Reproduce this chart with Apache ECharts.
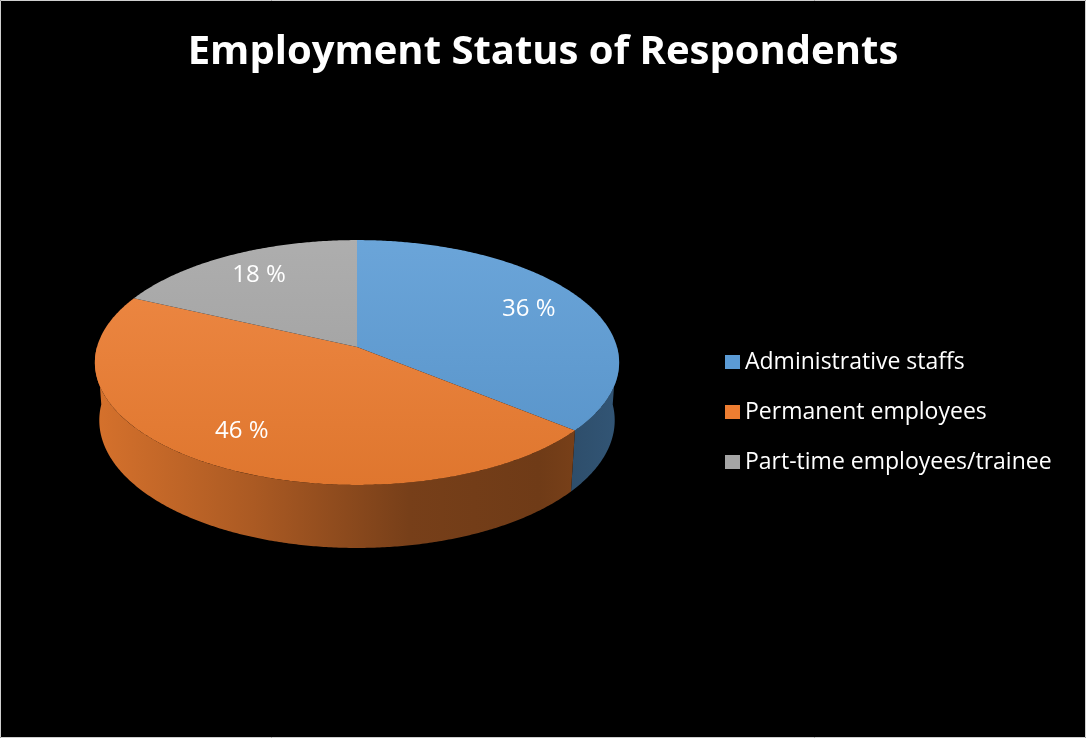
<!DOCTYPE html>
<html>
<head>
<meta charset="utf-8">
<script src="https://cdn.jsdelivr.net/npm/echarts@6/dist/echarts.min.js"></script>
<style>
  html, body { margin: 0; padding: 0; background: #000; }
  #chart { width: 1086px; height: 738px; }
</style>
</head>
<body>
<div id="chart"></div>
<script>
// Survey breakdown (percent of respondents)
const categories = ['Administrative staffs', 'Permanent employees', 'Part-time employees/trainee'];
const shares = [36, 46, 18];
const palette = ['#5B9BD5', '#ED7D31', '#A5A5A5'];

// Tilted-disc view: centre, radius in px, tilt, camera distance (in radii), thickness (in radii)
const CX = 357, CY = 347, SCALE = 260;
const TILT = 27.6 * Math.PI / 180;
const CAM = 7.0;
const THICK = 0.2536;
const LABEL_R = 0.76;
const FONT = '"Open Sans", "Noto Sans", sans-serif';

const total = shares.reduce((a, b) => a + b, 0);

// theta is measured clockwise from the far (back) side of the disc
function project(theta, r, level) {
  const x3 = r * Math.sin(theta);
  const z3 = r * Math.cos(theta);
  const y3 = -level * THICK;
  const up = y3 * Math.cos(TILT) + z3 * Math.sin(TILT);
  const toward = -z3 * Math.cos(TILT) + y3 * Math.sin(TILT);
  const f = CAM / (CAM - toward);
  return [CX + SCALE * x3 * f, CY - SCALE * up * f];
}

function arc(a, b, r, level) {
  const n = Math.max(2, Math.ceil((b - a) / (0.5 * Math.PI / 180)));
  const pts = [];
  for (let k = 0; k <= n; k++) pts.push(project(a + (b - a) * k / n, r, level));
  return pts;
}

function shade(hex, f) {
  const n = parseInt(hex.slice(1), 16);
  const c = [(n >> 16) & 255, (n >> 8) & 255, n & 255].map(v => {
    const o = f >= 1 ? v + (255 - v) * (f - 1) : v * f;
    return Math.round(Math.max(0, Math.min(255, o)));
  });
  return 'rgb(' + c.join(',') + ')';
}

function renderSlice(params, api) {
  const i = params.seriesIndex;
  const value = api.value(0);
  let before = 0;
  for (let k = 0; k < i; k++) before += shares[k];
  const t0 = before / total * Math.PI * 2;
  const t1 = t0 + value / total * Math.PI * 2;
  const base = palette[i];
  const children = [];

  // outer wall, only the half facing the viewer
  const a = Math.max(t0, Math.PI / 2), b = Math.min(t1, Math.PI * 1.5);
  if (a < b) {
    const pts = arc(a, b, 1, 0).concat(arc(a, b, 1, 1).reverse());
    children.push({
      type: 'polygon',
      z2: 1,
      shape: { points: pts },
      style: {
        fill: {
          type: 'linear', global: true, x: CX - SCALE, y: 0, x2: CX + SCALE, y2: 0,
          colorStops: [
            { offset: 0, color: shade(base, 0.9) },
            { offset: 0.3, color: shade(base, 0.72) },
            { offset: 0.6, color: shade(base, 0.5) },
            { offset: 0.85, color: shade(base, 0.47) },
            { offset: 1, color: shade(base, 0.55) }
          ]
        }
      }
    });
  }

  // top face
  const top = [project(0, 0, 0)].concat(arc(t0, t1, 1, 0));
  children.push({
    type: 'polygon',
    z2: 10,
    shape: { points: top },
    style: {
      fill: {
        type: 'linear', global: true, x: 0, y: CY - 110, x2: 0, y2: CY + 140,
        colorStops: [
          { offset: 0, color: shade(base, 1.1) },
          { offset: 1, color: shade(base, 0.94) }
        ]
      }
    }
  });

  // value label
  const mid = (t0 + t1) / 2;
  const p = project(mid, LABEL_R, 0);
  children.push({
    type: 'text',
    z2: 20,
    x: p[0], y: p[1],
    style: {
      text: value + ' %',
      fill: '#ffffff',
      font: '24px ' + FONT,
      align: 'center',
      verticalAlign: 'middle'
    }
  });

  return { type: 'group', children: children };
}

const chart = echarts.init(document.getElementById('chart'));
chart.setOption({
  backgroundColor: '#000000',
  animation: false,
  title: {
    text: 'Employment Status of Respondents',
    left: 'center',
    top: 28,
    textStyle: { color: '#ffffff', fontSize: 40, fontWeight: 'bold', fontFamily: FONT }
  },
  legend: {
    orient: 'vertical',
    left: 725,
    top: 350,
    padding: 0,
    itemWidth: 15,
    itemHeight: 14,
    itemGap: 26,
    icon: 'rect',
    data: categories,
    textStyle: { color: '#ffffff', fontSize: 23, lineHeight: 24, fontFamily: FONT },
    selectedMode: false
  },
  graphic: [{
    type: 'rect',
    shape: { x: 0.5, y: 0.5, width: 1085, height: 737 },
    style: { fill: 'none', stroke: '#cfcfcf', lineWidth: 1 },
    silent: true
  }],
  series: categories.map((name, i) => ({
    type: 'custom',
    name: name,
    coordinateSystem: 'none',
    itemStyle: { color: palette[i] },
    renderItem: renderSlice,
    data: [shares[i]]
  }))
});
</script>
</body>
</html>
